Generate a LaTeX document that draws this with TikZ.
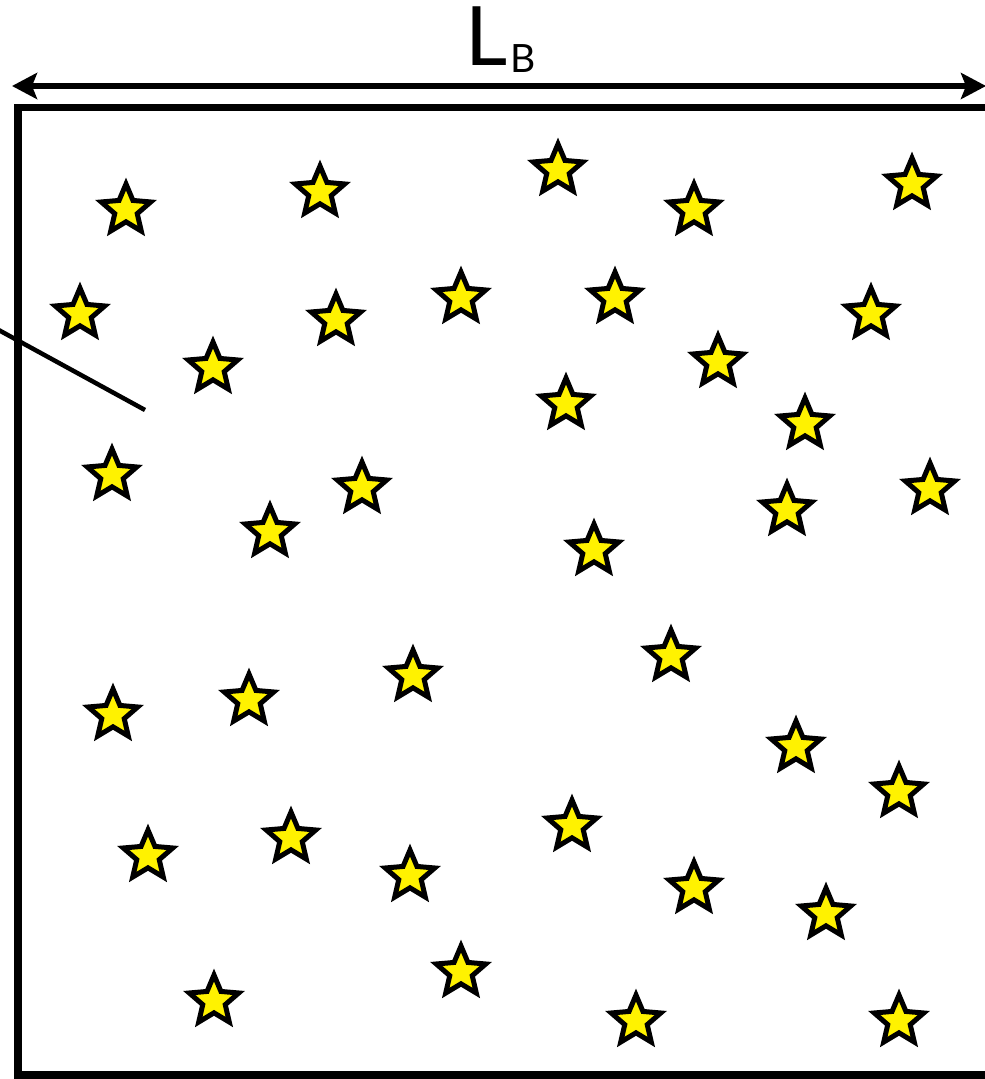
\documentclass[tikz,border=0pt]{standalone}
\usepackage{fontspec}
\setmainfont{Lato}
\usetikzlibrary{shapes.geometric,arrows.meta}
\tikzset{
  starnode/.style={star, star points=5, star point ratio=2.2, minimum size=52pt, inner sep=0pt,
    draw=black, line width=5pt, fill=yellow, line join=miter},
  boxline/.style={line width=7.5pt},
  dimline/.style={line width=6.5pt, {Stealth[length=25pt,width=26pt,inset=5pt]}-{Stealth[length=25pt,width=26pt,inset=5pt]}}
}
\begin{document}
\begin{tikzpicture}[x=1pt,y=-1pt]
\useasboundingbox (0,0) rectangle (985,1079);
\clip (0,0) rectangle (985,1079);
% box
\coordinate (bl) at (18,1075);
\coordinate (tl) at (18,107.5);
\coordinate (tr) at (1000,107.5);
\coordinate (br) at (1000,1075);
\draw[boxline, line join=miter] (tr) -- (tl) -- (bl) -- (br);
% dimension arrow
\coordinate (al) at (12,86);
\coordinate (ar) at (986,86);
\draw[dimline] (al) -- (ar);
\node[anchor=base west, inner sep=0pt] (lbl) at (465,65) {\fontsize{82}{82}\selectfont L\hspace{3pt}\raisebox{-7pt}{\fontsize{39}{39}\selectfont B}};
% diagonal line
\coordinate (d1) at (-5,328);
\coordinate (d2) at (145,410);
\draw[line width=4.5pt] (d1) -- (d2);
% stars
\foreach \n/\x/\y in {
 1/126/208, 2/320/190, 3/558/168, 4/694/208, 5/912/182,
 6/80/312, 7/336/318, 8/461/296, 9/615/296, 10/871/312,
 11/213/366, 12/718/360, 13/566/402, 14/805/422, 15/112/473,
 16/362/486, 17/270/530, 18/787/508, 19/930/487, 20/594/548,
 21/671/654, 22/113/713, 23/249/698, 24/413/674, 25/796/745,
 26/899/790, 27/148/854, 28/291/836, 29/572/824, 30/410/874,
 31/694/886, 32/826/912, 33/461/970, 34/214/999, 35/636/1019,
 36/899/1019}
 \node[starnode] (s\n) at (\x,\y+2) {};
\end{tikzpicture}
\end{document}
